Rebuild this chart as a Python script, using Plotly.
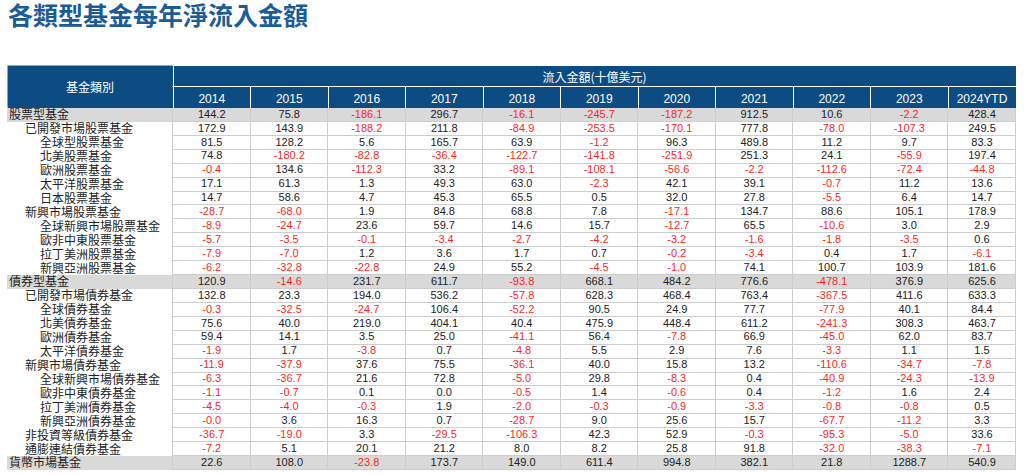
import plotly.graph_objects as go

W, H = 1024, 475

title_text = "各類型基金每年淨流入金額"
corner_label = "基金類別"
span_label = "流入金額(十億美元)"
years = ["2014", "2015", "2016", "2017", "2018", "2019", "2020", "2021", "2022", "2023", "2024YTD"]

fund_names = [
    "股票型基金", "已開發市場股票基金", "全球型股票基金", "北美股票基金", "歐洲股票基金",
    "太平洋股票基金", "日本股票基金", "新興市場股票基金", "全球新興市場股票基金",
    "歐非中東股票基金", "拉丁美洲股票基金", "新興亞洲股票基金",
    "債券型基金", "已開發市場債券基金", "全球債券基金", "北美債券基金", "歐洲債券基金",
    "太平洋債券基金", "新興市場債券基金", "全球新興市場債券基金", "歐非中東債券基金",
    "拉丁美洲債券基金", "新興亞洲債券基金", "非投資等級債券基金", "通膨連結債券基金",
    "貨幣市場基金",
]
levels = [0, 1, 2, 2, 2, 2, 2, 1, 2, 2, 2, 2,
          0, 1, 2, 2, 2, 2, 1, 2, 2, 2, 2, 1, 1,
          0]

v2014 = [144.2, 172.9, 81.5, 74.8, -0.4, 17.1, 14.7, -28.7, -8.9, -5.7, -7.9, -6.2,
         120.9, 132.8, -0.3, 75.6, 59.4, -1.9, -11.9, -6.3, -1.1, -4.5, -0.0, -36.7, -7.2, 22.6]
v2015 = [75.8, 143.9, 128.2, -180.2, 134.6, 61.3, 58.6, -68.0, -24.7, -3.5, -7.0, -32.8,
         -14.6, 23.3, -32.5, 40.0, 14.1, 1.7, -37.9, -36.7, -0.7, -4.0, 3.6, -19.0, 5.1, 108.0]
v2016 = [-186.1, -188.2, 5.6, -82.8, -112.3, 1.3, 4.7, 1.9, 23.6, -0.1, 1.2, -22.8,
         231.7, 194.0, -24.7, 219.0, 3.5, -3.8, 37.6, 21.6, 0.1, -0.3, 16.3, 3.3, 20.1, -23.8]
v2017 = [296.7, 211.8, 165.7, -36.4, 33.2, 49.3, 45.3, 84.8, 59.7, -3.4, 3.6, 24.9,
         611.7, 536.2, 106.4, 404.1, 25.0, 0.7, 75.5, 72.8, 0.0, 1.9, 0.7, -29.5, 21.2, 173.7]
v2018 = [-16.1, -84.9, 63.9, -122.7, -89.1, 63.0, 65.5, 68.8, 14.6, -2.7, 1.7, 55.2,
         -93.8, -57.8, -52.2, 40.4, -41.1, -4.8, -36.1, -5.0, -0.5, -2.0, -28.7, -106.3, 8.0, 149.0]
v2019 = [-245.7, -253.5, -1.2, -141.8, -108.1, -2.3, 0.5, 7.8, 15.7, -4.2, 0.7, -4.5,
         668.1, 628.3, 90.5, 475.9, 56.4, 5.5, 40.0, 29.8, 1.4, -0.3, 9.0, 42.3, 8.2, 611.4]
v2020 = [-187.2, -170.1, 96.3, -251.9, -56.6, 42.1, 32.0, -17.1, -12.7, -3.2, -0.2, -1.0,
         484.2, 468.4, 24.9, 448.4, -7.8, 2.9, 15.8, -8.3, -0.6, -0.9, 25.6, 52.9, 25.8, 994.8]
v2021 = [912.5, 777.8, 489.8, 251.3, -2.2, 39.1, 27.8, 134.7, 65.5, -1.6, -3.4, 74.1,
         776.6, 763.4, 77.7, 611.2, 66.9, 7.6, 13.2, 0.4, 0.4, -3.3, 15.7, -0.3, 91.8, 382.1]
v2022 = [10.6, -78.0, 11.2, 24.1, -112.6, -0.7, -5.5, 88.6, -10.6, -1.8, 0.4, 100.7,
         -478.1, -367.5, -77.9, -241.3, -45.0, -3.3, -110.6, -40.9, -1.2, -0.8, -67.7, -95.3, -32.0, 21.8]
v2023 = [-2.2, -107.3, 9.7, -55.9, -72.4, 11.2, 6.4, 105.1, 3.0, -3.5, 1.7, 103.9,
         376.9, 411.6, 40.1, 308.3, 62.0, 1.1, -34.7, -24.3, 1.6, -0.8, -11.2, -5.0, -38.3, 1288.7]
v2024ytd = [428.4, 249.5, 83.3, 197.4, -44.8, 13.6, 14.7, 178.9, 2.9, 0.6, -6.1, 181.6,
            625.6, 633.3, 84.4, 463.7, 83.7, 1.5, -7.8, -13.9, 2.4, 0.5, 3.3, 33.6, -7.1, 540.9]

year_values = [v2014, v2015, v2016, v2017, v2018, v2019, v2020, v2021, v2022, v2023, v2024ytd]

# ---------------- styling / layout constants ----------------
BLUE = "#0d4c82"
TITLE_BLUE = "#1b5c98"
GRAY_ROW = "#d9d9d9"
GRID = "#cdcdcd"
RED = "#ff1f1f"
BLACK = "#222222"
NUM_FONT = "Liberation Sans, Arial, sans-serif"
CJK_FONT = "Noto Sans CJK TC, Noto Sans CJK SC, sans-serif"

X0, X1 = 7, 1016                  # table left/right (px)
TOP_ROW = (65, 86)                # merged header row
YEAR_ROW = (86, 108)              # years header row
BODY = (108, 470)                 # body rows
name_col_w = 166
year_col_w = [77.5] * 10 + [68]
indent_px = {0: 0, 1: 16, 2: 31}
name_shift = 0.1                  # small downward nudge of CJK labels (in row units)

# column geometry in table units (px from table left)
edges = [0, name_col_w]
for w in year_col_w:
    edges.append(edges[-1] + w)
centers = [(a + b) / 2 for a, b in zip(edges[1:-1], edges[2:])]

is_group = [1 if l == 0 else 0 for l in levels]
num_text = [[f"{v:.1f}" for v in col] for col in year_values]
n = len(fund_names)

fig = go.Figure()

# ---- body cell backgrounds (grid lines show through the gaps) ----
fig.add_trace(go.Heatmap(
    x=edges[:2], y=fund_names, z=[[g] for g in is_group],
    colorscale=[[0, "white"], [1, GRAY_ROW]], zmin=0, zmax=1,
    showscale=False, xgap=1, ygap=0, hoverinfo="skip",
))
fig.add_trace(go.Heatmap(
    x=edges[1:], y=fund_names, z=[[g] * len(years) for g in is_group],
    colorscale=[[0, "white"], [1, GRAY_ROW]], zmin=0, zmax=1,
    showscale=False, xgap=1, ygap=1, hoverinfo="skip",
))

# ---- fund names ----
fig.add_trace(go.Scatter(
    x=[2 + indent_px[l] for l in levels], y=fund_names, text=fund_names,
    mode="text", textposition="middle right", cliponaxis=False, yaxis="y2",
    textfont=dict(size=12, color=BLACK, family=CJK_FONT), hoverinfo="skip",
))

# ---- values ----
for cx, col in zip(centers, num_text):
    fig.add_trace(go.Scatter(
        x=[cx] * len(col), y=fund_names, text=col,
        mode="text", textposition="middle center", cliponaxis=False,
        textfont=dict(size=11, family=NUM_FONT,
                      color=[RED if s.startswith("-") else BLACK for s in col]),
        hoverinfo="skip",
    ))

# ---- header rows (tables) ----
fig.add_trace(go.Table(
    domain=dict(x=[X0 / W, X1 / W], y=[1 - (TOP_ROW[1] + 1) / H, 1 - TOP_ROW[0] / H]),
    columnwidth=[name_col_w, sum(year_col_w)],
    header=dict(
        values=["", span_label],
        fill_color=BLUE, line=dict(color="white", width=1),
        font=dict(color="white", size=12, family=CJK_FONT),
        align="center", height=TOP_ROW[1] - TOP_ROW[0],
    ),
    cells=dict(values=[[], []], height=1),
))
fig.add_trace(go.Table(
    domain=dict(x=[X0 / W, X1 / W], y=[1 - (YEAR_ROW[1] + 1) / H, 1 - YEAR_ROW[0] / H]),
    columnwidth=[name_col_w] + year_col_w,
    header=dict(
        values=[""] + years,
        fill_color=BLUE, line=dict(color="white", width=1),
        font=dict(color="white", size=12, family=NUM_FONT),
        align="center", height=YEAR_ROW[1] - YEAR_ROW[0],
    ),
    cells=dict(values=[[] for _ in range(len(years) + 1)], height=1),
))

fig.add_annotation(
    x=(X0 + name_col_w / 2) / W, y=1 - (TOP_ROW[0] + YEAR_ROW[1]) / 2 / H,
    xref="paper", yref="paper", xanchor="center", yanchor="middle",
    text=corner_label, showarrow=False,
    bgcolor=BLUE, width=name_col_w - 2, height=YEAR_ROW[1] - TOP_ROW[0] - 2, borderpad=0,
    font=dict(color="white", size=12, family=CJK_FONT),
)

body_domain = [1 - BODY[1] / H, 1 - BODY[0] / H]
fig.update_layout(
    width=W, height=H,
    margin=dict(l=0, r=0, t=0, b=0),
    paper_bgcolor="white",
    plot_bgcolor=GRID,
    showlegend=False,
    hovermode=False,
    xaxis=dict(range=[0, edges[-1]], domain=[X0 / W, X1 / W], visible=False, fixedrange=True),
    yaxis=dict(type="category", categoryorder="array", categoryarray=fund_names,
               range=[n - 0.5, -0.5],
               domain=body_domain, visible=False, fixedrange=True),
    yaxis2=dict(type="category", categoryorder="array", categoryarray=fund_names,
                range=[n - 0.5 - name_shift, -0.5 - name_shift], overlaying="y",
                visible=False, fixedrange=True),
    title=dict(
        text=f"<b>{title_text}</b>",
        x=8 / W, xanchor="left", y=1 - 16 / H, yanchor="middle",
        font=dict(size=25, color=TITLE_BLUE, family=CJK_FONT),
    ),
)

fig.write_html("out.html", config={"displayModeBar": False},
               post_script="document.body.style.margin='0px';")
